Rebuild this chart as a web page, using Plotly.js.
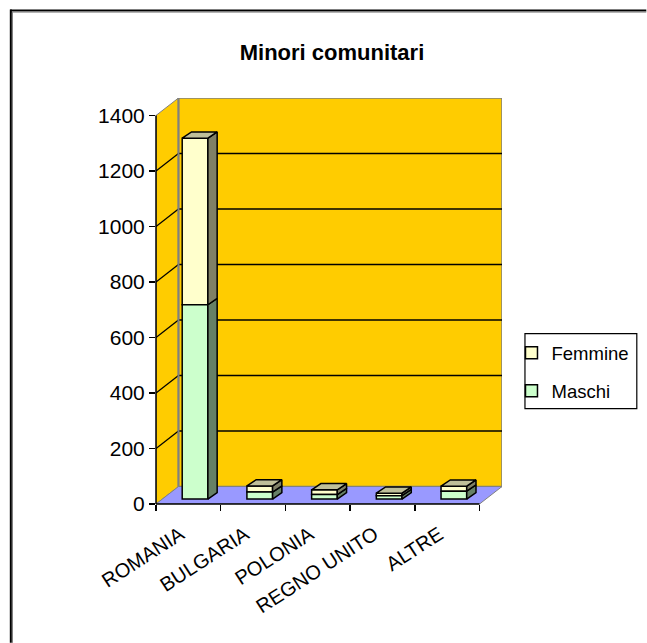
<!DOCTYPE html>
<html>
<head>
<meta charset="utf-8">
<script src="https://cdn.plot.ly/plotly-3.0.1.min.js"></script>
<style>html,body{margin:0;padding:0;background:#fff;overflow:hidden}#chart{width:647px;height:643px}</style>
</head>
<body>
<div id="chart"></div>
<script>
// ---- data ----
var categories = ["ROMANIA", "BULGARIA", "POLONIA", "REGNO UNITO", "ALTRE"];
var maschi = [700, 25, 16, 12, 28];
var femmine = [600, 22, 17, 9, 18];
var yTicks = [0, 200, 400, 600, 800, 1000, 1200, 1400];

// ---- pseudo-3D geometry (axis units) ----
var W = 647, H = 643;
var pxX = 64.8, pxY = 389 / 1400;             // pixels per axis unit
var L = 156, B = 504;
var R = L + 5*pxX + 22.5, T = B - 389 - 17.5; // plot box, pixels
var wallDX = 22.5 / pxX, wallDY = 17.5 / pxY; // depth of the floor
var barShiftX = 6.7 / pxX, barLift = 5 / pxY; // bar front face offset
var barW = 25.7 / pxX;
var barDX = 9.3 / pxX, barDY = 6.3 / pxY;     // depth of each bar
var labelShift = 8 / pxX;
var xMin = -0.5, xFront = 4.5, xMax = xFront + wallDX;
var yMax = 1400 + wallDY;
function px(x){return (x - L) / (R - L);}
function py(y){return (B - y) / (B - T);}

var gold = "#FFCC00", floor = "#9999FF", edge = "#808080";
var shapes = [];
function poly(pts, fill, lineColor, lineW){
  shapes.push({type:"path", xref:"x", yref:"y", layer:"below",
    path:"M" + pts.map(function(p){return p[0] + "," + p[1];}).join("L") + "Z",
    fillcolor:fill, line:{color:lineColor, width:lineW}});
}
function seg(x0,y0,x1,y1,color,w){
  shapes.push({type:"line", xref:"x", yref:"y", layer:"below", x0:x0,y0:y0,x1:x1,y1:y1, line:{color:color,width:w}});
}
// side wall, back wall, floor
poly([[xMin,0],[xMin+wallDX,wallDY],[xMin+wallDX,1400+wallDY],[xMin,1400]], gold, edge, 1);
poly([[xMin+wallDX,wallDY],[xMax,wallDY],[xMax,1400+wallDY],[xMin+wallDX,1400+wallDY]], gold, edge, 1.5);
poly([[xMin,0],[xFront,0],[xMax,wallDY],[xMin+wallDX,wallDY]], floor, edge, 1);
yTicks.slice(1, -1).forEach(function(v){
  seg(xMin, v, xMin+wallDX, v+wallDY, "#000", 1.3);
  seg(xMin+wallDX, v+wallDY, xMax, v+wallDY, "#000", 1.3);
});
seg(xMin+wallDX, wallDY, xMin+wallDX, 1400+wallDY, edge, 2);
// axis lines, frame and legend box (paper refs are not clipped)
function paperLine(x0,y0,x1,y1,c,w){
  shapes.push({type:"line", xref:"paper", yref:"paper", layer:"above",
    x0:px(x0), y0:py(y0), x1:px(x1), y1:py(y1), line:{color:c,width:w}});
}
paperLine(L, B, L, B - 1400*pxY, "#000", 1.5);
paperLine(L, B, L + 5*pxX, B, "#000", 1.5);
paperLine(10, 9.8, W, 9.8, "#000", 2);
paperLine(10, 11.5, W, 11.5, "#808080", 1);
paperLine(10.6, 9, 10.6, H, "#000", 2);
paperLine(12.3, 11, 12.3, H, "#808080", 1);
shapes.push({type:"rect", xref:"paper", yref:"paper", layer:"below",
  x0:px(525.5), x1:px(637.5), y0:py(333.5), y1:py(408.5),
  fillcolor:"#fff", line:{color:"#000", width:1.2}});

// ---- bars ----
var idx = categories.map(function(c,i){return i + barShiftX;});
function sum(a,b){return a.map(function(v,i){return v+b[i];});}
var liftArr = categories.map(function(){return barLift;});
var mTop = sum(liftArr, maschi), fTop = sum(mTop, femmine);

function sideTrace(lo, hi, color){
  var x=[],y=[];
  idx.forEach(function(c,i){
    var r = c + barW/2;
    x.push(r, r+barDX, r+barDX, r, r, null);
    y.push(lo[i], lo[i]+barDY, hi[i]+barDY, hi[i], lo[i], null);
  });
  return {type:"scatter", x:x, y:y, mode:"lines", fill:"toself", fillcolor:color,
    line:{color:"#000", width:1.5}, showlegend:false, hoverinfo:"skip"};
}
function topTrace(hi, color){
  var x=[],y=[];
  idx.forEach(function(c,i){
    var r = c + barW/2, l = c - barW/2;
    x.push(l, r, r+barDX, l+barDX, l, null);
    y.push(hi[i], hi[i], hi[i]+barDY, hi[i]+barDY, hi[i], null);
  });
  return {type:"scatter", x:x, y:y, mode:"lines", fill:"toself", fillcolor:color,
    line:{color:"#000", width:1.5}, showlegend:false, hoverinfo:"skip"};
}

var data = [
  {type:"bar", name:"Femmine", legendgroup:"f", x:idx, y:femmine, base:mTop, width:barW,
   marker:{color:"#FFFFCC", line:{color:"#000", width:1.5}}},
  {type:"bar", name:"Maschi", legendgroup:"m", x:idx, y:maschi, base:liftArr, width:barW,
   marker:{color:"#CCFFCC", line:{color:"#000", width:1.5}}},
  sideTrace(liftArr, mTop, "#668066"),
  sideTrace(mTop, fTop, "#808066"),
  topTrace(fTop, "#BFBF99"),
  // carries the boundary tick marks of the category axis
  {type:"scatter", x:[xMin], y:[0], xaxis:"x2", mode:"markers", marker:{opacity:0}, showlegend:false, hoverinfo:"skip"}
];

var family = "Liberation Sans, Arial, sans-serif";
var layout = {
  width:W, height:H, autosize:false,
  paper_bgcolor:"#fff", plot_bgcolor:"rgba(0,0,0,0)",
  margin:{l:L, r:W-R, t:T, b:H-B, pad:0},
  font:{family:family, color:"#000"}, barmode:"overlay", dragmode:false, hovermode:false,
  title:{text:"<b>Minori comunitari</b>", font:{family:family, size:22, color:"#000"},
         x:332/W, xanchor:"center", xref:"container", y:1-52/H, yanchor:"middle", yref:"container"},
  xaxis:{type:"linear", range:[xMin,xMax], tickmode:"array",
         tickvals:categories.map(function(c,i){return i - labelShift;}),
         ticktext:categories, tickangle:-33, ticks:"outside", ticklen:10, tickcolor:"rgba(0,0,0,0)",
         showgrid:false, zeroline:false, showline:false, tickfont:{family:family,size:20,color:"#000"}, fixedrange:true},
  xaxis2:{type:"linear", overlaying:"x", anchor:"y", side:"bottom", range:[xMin,xMax], tickmode:"array",
         tickvals:[-0.5,0.5,1.5,2.5,3.5,4.5], ticks:"outside", ticklen:6, tickwidth:1.5, tickcolor:"#000",
         showticklabels:false, showgrid:false, zeroline:false, showline:false, fixedrange:true},
  yaxis:{range:[0,yMax], tickmode:"array", tickvals:yTicks, ticks:"outside", ticklen:6, tickwidth:1.5, tickcolor:"#000",
         showgrid:false, zeroline:false, showline:false, tickfont:{family:family,size:21,color:"#000"}, fixedrange:true},
  legend:{x:px(512), xanchor:"left", y:py(334), yanchor:"top", traceorder:"grouped",
          tracegroupgap:11, bgcolor:"rgba(0,0,0,0)", borderwidth:0, font:{family:family,size:18.5,color:"#000"}},
  shapes:shapes
};
Plotly.newPlot("chart", data, layout, {displayModeBar:false, staticPlot:true});
</script>
</body>
</html>
